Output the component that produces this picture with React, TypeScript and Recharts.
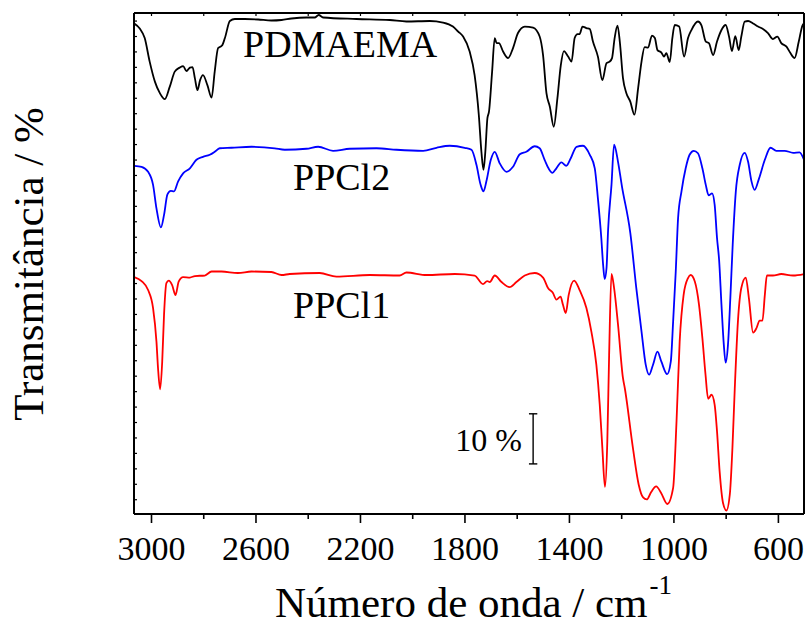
import { LineChart, Line, XAxis, YAxis, ReferenceLine } from "recharts";

const FONT = '"Liberation Serif", "Times New Roman", serif';

// wavenumber (cm-1), transmittance (offset, %)
const pdmaema: [number, number][] = [
  [3066, 97.9], [3045, 96.9], [3026, 95.0], [3007, 90.3], [2987, 86.3], [2968, 84.0], [2949, 82.8],
  [2930, 85.3], [2911, 88.3], [2892, 89.1], [2879, 89.4], [2866, 88.4], [2853, 89.1], [2843, 89.2],
  [2834, 87.0], [2824, 84.6], [2814, 86.6], [2803, 87.6], [2786, 85.6], [2770, 83.1], [2758, 88.3],
  [2745, 93.0], [2730, 93.5], [2719, 95.0], [2700, 98.4], [2681, 98.8], [2643, 98.8], [2592, 98.7],
  [2541, 98.5], [2502, 98.6], [2464, 98.9], [2407, 99.1], [2375, 99.1], [2360, 99.6], [2343, 99.1],
  [2215, 98.8], [2088, 98.6], [2024, 98.3], [1935, 98.4], [1884, 98.1], [1846, 97.3], [1826, 96.3],
  [1807, 95.3], [1782, 92.3], [1763, 87.6], [1747, 79.7], [1737, 72.3], [1729, 68.7], [1722, 72.3],
  [1714, 79.0], [1708, 80.3], [1696, 88.3], [1686, 95.0], [1679, 94.0], [1670, 94.0], [1654, 92.3],
  [1635, 91.0], [1616, 93.0], [1597, 96.0], [1571, 97.3], [1539, 97.1], [1514, 95.3], [1501, 91.6],
  [1488, 84.0], [1475, 81.3], [1460, 77.3], [1446, 83.0], [1433, 89.6], [1421, 92.4], [1405, 91.3],
  [1392, 90.3], [1380, 95.0], [1369, 95.8], [1361, 95.8], [1350, 97.3], [1335, 97.0], [1322, 96.8],
  [1310, 94.3], [1291, 91.3], [1274, 86.6], [1258, 90.0], [1246, 90.3], [1237, 91.0], [1227, 95.0],
  [1216, 97.5], [1207, 94.2], [1195, 87.0], [1182, 84.0], [1167, 82.3], [1151, 79.7], [1137, 85.0],
  [1124, 90.3], [1112, 93.2], [1099, 93.1], [1084, 95.5], [1073, 95.0], [1063, 92.6], [1048, 92.1],
  [1038, 91.3], [1029, 92.0], [1016, 90.2], [1006, 95.0], [997, 97.6], [980, 97.3], [961, 91.3],
  [946, 95.0], [933, 96.6], [908, 98.3], [895, 97.6], [878, 94.3], [866, 94.0], [850, 91.6],
  [835, 94.3], [818, 96.6], [802, 97.6], [789, 95.3], [778, 92.4], [765, 95.4], [752, 92.6],
  [742, 95.3], [729, 98.3], [716, 98.4], [697, 97.9], [678, 97.3], [659, 96.8], [640, 96.0],
  [621, 94.8], [604, 95.3], [589, 94.0], [569, 93.3], [554, 92.0], [538, 91.0], [522, 94.3],
  [508, 97.5], [502, 97.9],
];

const ppcl2: [number, number][] = [
  [3066, 69.5], [3038, 69.3], [3013, 68.3], [2994, 65.7], [2981, 61.0], [2964, 57.2], [2952, 59.7],
  [2939, 63.8], [2926, 64.5], [2914, 64.4], [2898, 66.4], [2879, 68.0], [2853, 69.0], [2828, 70.7],
  [2803, 71.3], [2777, 71.7], [2758, 72.3], [2739, 73.0], [2694, 73.1], [2617, 73.3], [2528, 73.0],
  [2490, 72.7], [2407, 72.9], [2362, 73.3], [2305, 72.5], [2241, 72.9], [2139, 73.0], [2062, 72.7],
  [1960, 72.5], [1909, 73.1], [1858, 73.5], [1801, 73.1], [1775, 72.7], [1756, 69.7], [1740, 65.7],
  [1729, 64.4], [1718, 66.4], [1701, 70.7], [1686, 72.3], [1667, 70.0], [1641, 68.3], [1616, 69.3],
  [1590, 71.8], [1565, 72.3], [1533, 73.4], [1514, 73.0], [1495, 70.7], [1479, 68.9], [1465, 68.1],
  [1450, 69.0], [1431, 70.2], [1412, 69.5], [1395, 71.0], [1373, 73.3], [1348, 73.5], [1322, 71.7],
  [1303, 69.0], [1291, 63.0], [1278, 55.1], [1271, 49.7], [1265, 46.9], [1258, 49.1], [1252, 56.7],
  [1239, 65.7], [1229, 73.7], [1214, 70.3], [1199, 65.4], [1167, 56.1], [1144, 45.1], [1124, 36.4],
  [1108, 29.8], [1095, 27.8], [1080, 29.8], [1063, 32.4], [1048, 30.4], [1026, 27.9], [1012, 30.4],
  [1003, 38.4], [993, 48.4], [984, 59.1], [971, 64.4], [955, 69.0], [940, 71.7], [924, 72.5],
  [908, 72.0], [891, 69.0], [878, 65.7], [867, 63.6], [854, 64.0], [844, 61.7], [835, 55.1],
  [827, 50.7], [818, 41.8], [809, 33.8], [802, 30.2], [793, 33.8], [784, 43.1], [775, 53.7],
  [763, 64.4], [748, 69.7], [729, 72.1], [716, 70.3], [703, 66.4], [691, 64.7], [674, 67.0],
  [652, 70.7], [630, 73.1], [608, 72.5], [576, 72.5], [544, 72.1], [519, 72.2], [502, 70.7],
];

const ppcl1: [number, number][] = [
  [3066, 47.3], [3038, 46.5], [3013, 44.7], [2994, 41.1], [2981, 34.4], [2975, 29.1], [2967, 24.9],
  [2959, 30.4], [2952, 39.8], [2943, 46.1], [2934, 46.6], [2921, 45.7], [2908, 43.7], [2896, 46.4],
  [2879, 47.3], [2853, 47.2], [2834, 47.5], [2796, 47.6], [2770, 48.4], [2732, 48.4], [2669, 48.1],
  [2617, 48.4], [2541, 48.3], [2502, 47.7], [2471, 47.9], [2356, 48.1], [2292, 47.4], [2164, 47.7],
  [2050, 47.6], [2024, 48.2], [1947, 47.7], [1839, 47.9], [1763, 47.6], [1731, 45.9], [1715, 46.5],
  [1705, 46.3], [1686, 47.6], [1660, 46.3], [1629, 45.3], [1603, 46.3], [1571, 47.6], [1533, 48.1],
  [1501, 47.2], [1482, 45.1], [1463, 44.1], [1450, 42.8], [1434, 43.4], [1425, 41.8], [1414, 40.1],
  [1403, 43.7], [1382, 46.6], [1361, 44.7], [1335, 41.1], [1316, 36.4], [1297, 29.8], [1284, 21.8],
  [1274, 13.2], [1264, 5.4], [1255, 14.5], [1248, 31.8], [1239, 47.9], [1229, 45.1], [1214, 37.8],
  [1195, 27.1], [1188, 25.1], [1157, 13.2], [1135, 5.9], [1118, 3.3], [1104, 2.9], [1087, 4.4],
  [1068, 5.5], [1049, 4.2], [1025, 2.0], [1003, 5.2], [990, 18.5], [978, 34.4], [963, 43.7],
  [946, 47.1], [936, 47.7], [920, 46.4], [904, 41.8], [891, 35.1], [879, 27.8], [869, 23.0],
  [856, 23.8], [844, 21.8], [835, 16.5], [825, 8.5], [812, 2.2], [799, 0.7], [786, 3.9],
  [776, 13.2], [767, 25.1], [755, 38.4], [742, 45.1], [725, 47.2], [713, 43.1], [697, 36.2],
  [684, 37.1], [672, 38.6], [661, 38.6], [652, 43.7], [644, 47.6], [621, 47.6], [589, 47.9],
  [544, 47.6], [502, 47.9],
];

const xTicks = [3000, 2800, 2600, 2400, 2200, 2000, 1800, 1600, 1400, 1200, 1000, 800, 600];
const xLabels = [3000, 2600, 2200, 1800, 1400, 1000, 600];
const yTicks = [
  2.85, 5.93, 9.01, 12.1, 15.18, 18.26, 21.34, 24.42, 27.51, 30.59, 33.67, 36.75, 39.83, 42.92,
  46.0, 49.08, 52.16, 55.24, 58.33, 61.41, 64.49, 67.57, 70.65, 73.74, 76.82, 79.9, 82.98, 86.06,
  89.15, 92.23, 95.31, 98.39,
];
// scale bar: 10 % between 10 and 20
const barWn = 1539;
const barLow = 10;
const barHigh = 20;

const rows = (pts: [number, number][]) => pts.map(([wn, t]) => ({ wn, t }));

function BottomTick({ x, y, payload }: any) {
  const major = xLabels.includes(payload.value);
  return (
    <g>
      <line x1={x} x2={x} y1={y} y2={y + (major ? 9 : 5)} stroke="#000" strokeWidth={1.6} />
      {major && (
        <text x={x} y={y + 46} textAnchor="middle" fontSize={34} fontFamily={FONT} fill="#000">
          {payload.value}
        </text>
      )}
    </g>
  );
}

function TopTick({ x, y }: any) {
  return <line x1={x} x2={x} y1={y} y2={y + 3} stroke="#000" strokeWidth={1.2} />;
}

function LeftTick({ x, y }: any) {
  return <line x1={x} x2={x + 3} y1={y} y2={y} stroke="#000" strokeWidth={1.2} />;
}

export default function App() {
  const domain: [number, number] = [502, 3067];
  return (
    <div style={{ position: "absolute", left: 0, top: 0, width: 808, height: 626, background: "#fff" }}>
      <LineChart width={808} height={626} margin={{ top: 3, right: 0, bottom: 0, left: 0 }}>
        <XAxis
          dataKey="wn"
          type="number"
          domain={domain}
          reversed
          allowDataOverflow
          ticks={xTicks}
          interval={0}
          tick={<BottomTick />}
          tickSize={0}
          tickMargin={0}
          tickLine={false}
          height={112}
          axisLine={{ stroke: "#000", strokeWidth: 2 }}
        />
        <XAxis
          xAxisId="top"
          orientation="top"
          dataKey="wn"
          type="number"
          domain={domain}
          reversed
          allowDataOverflow
          ticks={xTicks}
          interval={0}
          tick={<TopTick />}
          tickSize={0}
          tickMargin={0}
          tickLine={false}
          height={10}
          axisLine={{ stroke: "#000", strokeWidth: 2 }}
        />
        <YAxis
          type="number"
          domain={[0, 100]}
          allowDataOverflow
          ticks={yTicks}
          interval={0}
          tick={<LeftTick />}
          tickSize={0}
          tickMargin={0}
          tickLine={false}
          width={134}
          axisLine={{ stroke: "#000", strokeWidth: 2 }}
        />
        <YAxis
          yAxisId="r"
          orientation="right"
          type="number"
          domain={[0, 100]}
          tick={false}
          tickLine={false}
          width={4}
          axisLine={{ stroke: "#000", strokeWidth: 2 }}
        />
        <Line data={rows(pdmaema)} dataKey="t" type="monotone" stroke="#000000" strokeWidth={1.8} dot={false} isAnimationActive={false} />
        <Line data={rows(ppcl2)} dataKey="t" type="monotone" stroke="#0000ff" strokeWidth={1.8} dot={false} isAnimationActive={false} />
        <Line data={rows(ppcl1)} dataKey="t" type="monotone" stroke="#ff0000" strokeWidth={1.8} dot={false} isAnimationActive={false} />
        <ReferenceLine segment={[{ x: barWn, y: barLow }, { x: barWn, y: barHigh }]} stroke="#000" strokeWidth={1.4} />
        <ReferenceLine segment={[{ x: barWn + 16, y: barLow }, { x: barWn - 16, y: barLow }]} stroke="#000" strokeWidth={1.4} />
        <ReferenceLine segment={[{ x: barWn + 16, y: barHigh }, { x: barWn - 16, y: barHigh }]} stroke="#000" strokeWidth={1.4} />
      </LineChart>
      <svg
        width={808}
        height={626}
        style={{ position: "absolute", left: 0, top: 0, pointerEvents: "none" }}
        fontFamily={FONT}
        fill="#000"
      >
        <text x={243} y={57} fontSize={38}>PDMAEMA</text>
        <text x={293} y={190} fontSize={38}>PPCl2</text>
        <text x={293} y={318} fontSize={38}>PPCl1</text>
        <text x={522} y={451} fontSize={32} textAnchor="end">10 %</text>
        <text x={43} y={264} fontSize={43} textAnchor="middle" transform="rotate(-90, 43, 264)">
          Transmitância / %
        </text>
        <text x={275} y={617} fontSize={43}>
          Número de onda / cm
          <tspan dx={2} dy={-23} fontSize={27}>-1</tspan>
        </text>
      </svg>
    </div>
  );
}
